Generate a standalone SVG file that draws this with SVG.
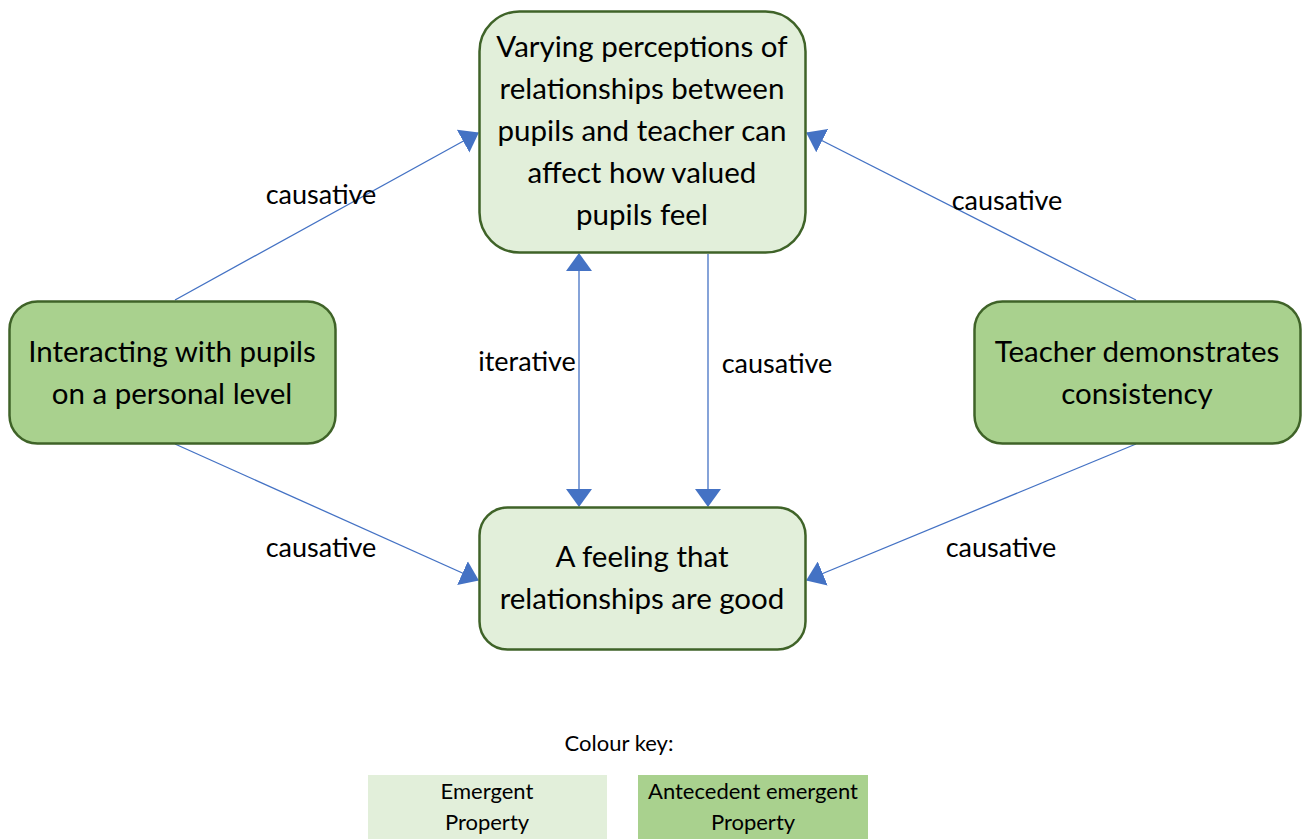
<svg xmlns="http://www.w3.org/2000/svg" width="1306" height="839" viewBox="0 0 1306 839">
  <style>
    .node { stroke: #3f6328; stroke-width: 2.5; }
    .emergent { fill: #e2efda; }
    .antecedent { fill: #a9d18e; }
    .ntext { font-family: Lato, "Open Sans", sans-serif; font-size: 29.5px; fill: #000; text-anchor: middle; }
    .lbl { font-family: Lato, "Open Sans", sans-serif; font-size: 27px; fill: #000; text-anchor: middle; }
    .key { font-family: Lato, "Open Sans", sans-serif; font-size: 22px; fill: #000; text-anchor: middle; }
    .conn { stroke: #4472c4; stroke-width: 1.3; fill: none; }
  </style>
  <defs>
    <marker id="arrow" viewBox="0 0 18 26" refX="17" refY="13" markerUnits="userSpaceOnUse" markerWidth="18" markerHeight="26" orient="auto-start-reverse">
      <path d="M0,0 L18,13 L0,26 Z" fill="#4472c4"/>
    </marker>
  </defs>

  <rect width="1306" height="839" fill="#ffffff"/>

  <!-- connectors -->
  <g id="connectors">
    <line class="conn" x1="175" y1="300" x2="478" y2="133" marker-end="url(#arrow)"/>
    <line class="conn" x1="1136" y1="300" x2="807" y2="133" marker-end="url(#arrow)"/>
    <line class="conn" x1="175" y1="444" x2="478" y2="580" marker-end="url(#arrow)"/>
    <line class="conn" x1="1136" y1="444" x2="807" y2="580" marker-end="url(#arrow)"/>
    <line class="conn" x1="579" y1="254" x2="579" y2="506" marker-start="url(#arrow)" marker-end="url(#arrow)"/>
    <line class="conn" x1="708" y1="254" x2="708" y2="506" marker-end="url(#arrow)"/>
    <text class="lbl" x="321" y="204">causative</text>
    <text class="lbl" x="1007" y="210">causative</text>
    <text class="lbl" x="527" y="371">iterative</text>
    <text class="lbl" x="777" y="373">causative</text>
    <text class="lbl" x="321" y="557">causative</text>
    <text class="lbl" x="1001" y="557">causative</text>
  </g>

  <g id="node-perceptions">
    <rect class="node emergent" x="479.5" y="11.5" width="326" height="241" rx="40"/>
    <text class="ntext" x="642" y="57">Varying perceptions of</text>
    <text class="ntext" x="642" y="99">relationships between</text>
    <text class="ntext" x="642" y="141">pupils and teacher can</text>
    <text class="ntext" x="642" y="183">affect how valued</text>
    <text class="ntext" x="642" y="225">pupils feel</text>
  </g>

  <g id="node-interacting">
    <rect class="node antecedent" x="9.5" y="301.5" width="326" height="142" rx="28"/>
    <text class="ntext" x="172" y="362">Interacting with pupils</text>
    <text class="ntext" x="172" y="404">on a personal level</text>
  </g>

  <g id="node-consistency">
    <rect class="node antecedent" x="974.5" y="301.5" width="326" height="142" rx="28"/>
    <text class="ntext" x="1137" y="362">Teacher demonstrates</text>
    <text class="ntext" x="1137" y="404">consistency</text>
  </g>

  <g id="node-feeling">
    <rect class="node emergent" x="479.5" y="507.5" width="326" height="142" rx="28"/>
    <text class="ntext" x="642" y="567">A feeling that</text>
    <text class="ntext" x="642" y="609">relationships are good</text>
  </g>

  <!-- colour key -->
  <g id="colour-key">
    <text class="key" x="619" y="751">Colour key:</text>
    <rect x="368" y="775" width="239" height="64" fill="#e2efda"/>
    <text class="key" x="487" y="799">Emergent</text>
    <text class="key" x="487" y="830">Property</text>
    <rect x="638" y="775" width="230" height="64" fill="#a9d18e"/>
    <text class="key" x="753" y="799">Antecedent emergent</text>
    <text class="key" x="753" y="830">Property</text>
  </g>
</svg>
